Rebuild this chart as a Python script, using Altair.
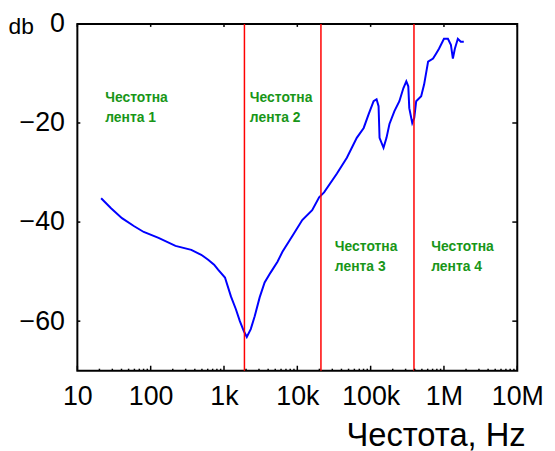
import json
import altair as alt
import pandas as pd

# ---- data ----
freq = [21.1, 28.8, 40.6, 58.9, 80.4, 128, 218, 358, 489, 608, 733, 830, 1031,
        1243, 1453, 1645, 1863, 2046, 2317, 2623, 3065, 3582, 4316, 5367, 6271,
        8558, 11680, 15950, 19830, 23170, 34720, 47400, 55380, 64700, 80440,
        93980, 109800, 120500, 128300, 132300, 149900, 164500, 180600, 211000,
        246600, 279200, 306600, 326300, 336500, 369500, 393200, 418300, 488900,
        536700, 607800, 710300, 779800, 855800, 1000000, 1133000, 1243000,
        1323000, 1408000, 1546000, 1697000, 1864000]
db = [-35.2, -37.2, -39.2, -40.8, -42.0, -43.2, -44.8, -45.6, -46.6, -47.6,
      -48.6, -49.6, -51.2, -55.0, -57.6, -60.0, -62.0, -63.2, -61.6, -59.0,
      -55.2, -52.2, -50.2, -48.0, -46.0, -42.8, -39.6, -37.6, -35.0, -34.0,
      -30.2, -27.0, -25.0, -23.0, -21.0, -18.2, -15.6, -15.2, -16.6, -23.0,
      -25.0, -23.0, -20.2, -17.6, -15.6, -13.0, -11.6, -12.6, -17.0, -20.0,
      -19.0, -15.6, -14.6, -12.2, -7.6, -7.0, -6.0, -5.0, -3.0, -3.0, -4.2,
      -7.0, -5.0, -3.0, -3.6, -3.6]

band_edges = [1900, 21000, 390000]
band_label_x = [24, 2250, 32500, 670000]
band_line1_y = [-15, -15, -45, -45]
band_line2_y = [-19, -19, -49, -49]
band_line1 = ["Честотна", "Честотна", "Честотна", "Честотна"]
band_line2 = ["лента 1", "лента 2", "лента 3", "лента 4"]

x_ticks = [10, 100, 1000, 10000, 100000, 1000000, 10000000]
x_tick_labels = ["10", "100", "1k", "10k", "100k", "1M", "10M"]
x_minor = [m * d for d in x_ticks[:-1] for m in range(2, 10)]
y_ticks = [0, -20, -40, -60]
y_inner_ticks = [-20, -40, -60]

W, H = 444, 350
FONT = "Liberation Sans"

xscale = alt.Scale(type="log", domain=[10, 1e7], nice=False)
yscale = alt.Scale(domain=[-70, 0], nice=False)

curve_df = pd.DataFrame({"f": freq, "db": db})
edges_df = pd.DataFrame({"f": band_edges})
labels_df = pd.DataFrame({
    "f": band_label_x * 2,
    "db": band_line1_y + band_line2_y,
    "txt": band_line1 + band_line2,
})
major_df = pd.DataFrame({"f": x_ticks})
minor_df = pd.DataFrame({"f": x_minor})
ytick_df = pd.DataFrame({"db": y_inner_ticks})

label_expr = json.dumps(x_tick_labels) + "[round(log(datum.value)/LN10)-1]"

xaxis = alt.Axis(values=x_ticks, labelExpr=label_expr, ticks=False,
                 domain=False, grid=False, labelFlush=False,
                 labelOverlap=False, labelBound=False,
                 labelFont=FONT, labelFontSize=27, labelColor="black",
                 labelPadding=13, title="Честота, Hz",
                 titleFont=FONT, titleFontSize=33,
                 titleFontWeight="normal", titleColor="black",
                 titleAlign="right", titleAnchor="start",
                 titleX=452, titleY=75, titleBaseline="alphabetic")
yaxis = alt.Axis(values=y_ticks, ticks=False, domain=False, grid=False,
                 labelFont=FONT, labelFontSize=27, labelColor="black",
                 labelPadding=13, labelFlush=False, labelOverlap=False,
                 title="db", titleFont=FONT, titleFontSize=23,
                 titleFontWeight="normal", titleColor="black",
                 titleAngle=0, titleAlign="left", titleX=-70,
                 titleY=10, titleBaseline="alphabetic")

line = alt.Chart(curve_df).mark_line(color="#0000ff", strokeWidth=2).encode(
    x=alt.X("f:Q", scale=xscale, axis=xaxis),
    y=alt.Y("db:Q", scale=yscale, axis=yaxis),
)

edges = alt.Chart(edges_df).mark_rule(color="#ff0000", strokeWidth=1.5).encode(
    x=alt.X("f:Q", scale=xscale, axis=xaxis))

texts = alt.Chart(labels_df).mark_text(
    align="left", baseline="middle", font=FONT, fontSize=14,
    fontWeight="bold", color="#189618").encode(
    x=alt.X("f:Q", scale=xscale, axis=xaxis),
    y=alt.Y("db:Q", scale=yscale, axis=yaxis),
    text="txt:N")

bottom_major = alt.Chart(major_df).mark_rule(color="black", strokeWidth=1.5).encode(
    x=alt.X("f:Q", scale=xscale, axis=xaxis), y=alt.value(H), y2=alt.value(H - 5))
bottom_minor = alt.Chart(minor_df).mark_rule(color="black", strokeWidth=1.5).encode(
    x=alt.X("f:Q", scale=xscale, axis=xaxis), y=alt.value(H), y2=alt.value(H - 2))
top_major = alt.Chart(major_df).mark_rule(color="black", strokeWidth=1.5).encode(
    x=alt.X("f:Q", scale=xscale, axis=xaxis), y=alt.value(0), y2=alt.value(3))
left_ticks = alt.Chart(ytick_df).mark_rule(color="black", strokeWidth=1.5).encode(
    y=alt.Y("db:Q", scale=yscale, axis=yaxis), x=alt.value(0), x2=alt.value(3))
right_ticks = alt.Chart(ytick_df).mark_rule(color="black", strokeWidth=1.5).encode(
    y=alt.Y("db:Q", scale=yscale, axis=yaxis), x=alt.value(W), x2=alt.value(W - 5))

chart = alt.layer(
    line, edges, texts, bottom_major, bottom_minor, top_major, left_ticks, right_ticks
).properties(
    width=W, height=H, background="white",
    autosize=alt.AutoSizeParams(type="none"),
    padding={"left": 70, "top": 14, "right": 30, "bottom": 80},
).configure_view(stroke="black", strokeWidth=2)

chart.save("out.html", embed_options={"renderer": "svg", "actions": False})
